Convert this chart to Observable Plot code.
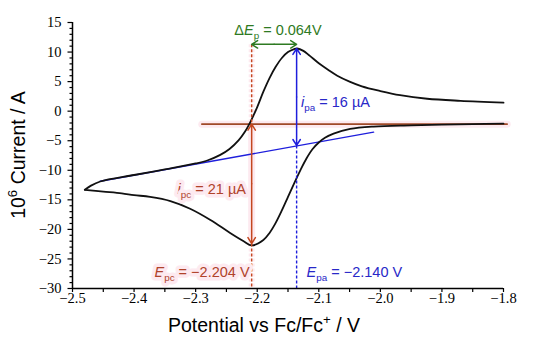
<!DOCTYPE html>
<html><head><meta charset="utf-8">
<script src="https://cdn.jsdelivr.net/npm/d3@7"></script>
<script src="https://cdn.jsdelivr.net/npm/@observablehq/plot@0.6"></script>
<style>
body{margin:0;background:#fff}
</style>
</head><body><div id="chart"></div>
<script>
// Cathodic (forward) branch, from -1.80 V to the switching potential
const lowerE = [-1.80, -1.85, -1.90, -1.95, -2.011, -2.049, -2.076, -2.09, -2.10, -2.11, -2.12, -2.13, -2.14, -2.15, -2.16, -2.17, -2.18, -2.19, -2.209, -2.222, -2.244, -2.276, -2.309, -2.341, -2.374, -2.40, -2.42, -2.45, -2.48];
const lowerI = [-2.12, -2.18, -2.27, -2.4, -2.6, -3.0, -3.8, -4.5, -5.3, -6.4, -8.0, -10.0, -12.2, -14.5, -16.8, -18.9, -20.6, -21.8, -22.7, -22.0, -20.6, -18.4, -16.5, -15.2, -14.5, -14.2, -13.9, -13.6, -13.3];
// Anodic (reverse) branch
const upperE = [-2.48, -2.47, -2.455, -2.40, -2.35, -2.30, -2.28, -2.26, -2.245, -2.23, -2.22, -2.21, -2.20, -2.19, -2.18, -2.17, -2.16, -2.15, -2.14, -2.135, -2.125, -2.115, -2.10, -2.085, -2.07, -2.05, -2.03, -2.0, -1.968, -1.924, -1.87, -1.80];
const upperI = [-13.3, -12.6, -11.9, -10.8, -9.85, -8.85, -8.3, -7.4, -6.4, -4.9, -3.5, -1.6, 0.7, 3.3, 5.6, 7.5, 9.0, 10.0, 10.5, 10.6, 10.2, 9.4, 8.1, 7.0, 6.0, 5.0, 4.2, 3.4, 2.7, 2.1, 1.75, 1.45];

// Baselines
const cathBaseE = [-2.29, -1.794];
const cathBaseI = [-2.2, -2.2];
const anBaseE = [-2.455, -2.011];
const anBaseI = [-11.85, -3.55];

// Peak markers
const Epc = -2.209, Epa = -2.136;
const ipcTop = -2.2, ipcBottom = -22.4;
const ipaTop = 10.6, ipaBottom = -5.8;
const deltaLevel = 11.3;

// Ticks
const xMajor = [-2.5, -2.4, -2.3, -2.2, -2.1, -2.0, -1.9, -1.8];
const xMinor = [-2.45, -2.35, -2.25, -2.15, -2.05, -1.95, -1.85];
const yMajor = [-30, -25, -20, -15, -10, -5, 0, 5, 10, 15];
const yMinor = d3.range(-30, 16, 1).filter(v => v % 5 !== 0);

const RED = "#C4471F", RED_T = "#B0422A", BROWN = "#A04A28", BLUE = "#1E1EDC", BLUE_T = "#2828C8", GREEN = "#2E7A22", GLOW = "#fdeaf0";
const SERIF = "Liberation Serif";

const cv = [
  ...lowerE.map((e, i) => ({E: e, I: lowerI[i], b: "c"})),
  ...upperE.map((e, i) => ({E: e, I: upperI[i], b: "a"}))
];
const line = (xs, ys) => xs.map((x, i) => ({x, y: ys[i]}));

// Annotation texts (position in data units)
const notes = [
  {x: -2.1655, y: 12.8, anchor: "middle", fill: GREEN, segs: [{t: "Δ"}, {t: "E", it: 1}, {t: "p", sub: 1}, {t: " = 0.064V"}]},
  {x: -2.128, y: 0.68, anchor: "start", fill: BLUE_T, segs: [{t: "i", it: 1}, {t: "pa", sub: 1}, {t: " = 16 µA"}]},
  {x: -2.3285, y: -14.1, anchor: "start", fill: RED_T, halo: GLOW, segs: [{t: "i", it: 1}, {t: "pc", sub: 1}, {t: " = 21 µA"}]},
  {x: -2.366, y: -28.1, anchor: "start", fill: RED_T, halo: GLOW, segs: [{t: "E", it: 1}, {t: "pc", sub: 1}, {t: " = −2.204 V"}]},
  {x: -2.119, y: -28.1, anchor: "start", fill: BLUE_T, segs: [{t: "E", it: 1}, {t: "pa", sub: 1}, {t: " = −2.140 V"}]}
];

function richText(g, x, y, segs, o) {
  const size = o.size;
  const t = g.append("text").attr("x", x).attr("y", y)
    .attr("fill", o.fill).attr("font-family", "'Liberation Sans', Arial, sans-serif")
    .attr("font-size", size).attr("text-anchor", o.anchor || "start");
  if (o.rotate) t.attr("transform", `rotate(-90 ${x} ${y})`);
  if (o.halo) t.attr("stroke", o.halo).attr("stroke-width", 7).attr("stroke-linejoin", "round").attr("paint-order", "stroke");
  let shift = 0;
  for (const s of segs) {
    const ts = t.append("tspan").text(s.t);
    let target = 0;
    if (s.sub) { ts.attr("font-size", size * 0.68); target = size * 0.28; }
    if (s.sup) { ts.attr("font-size", size * 0.68); target = -size * 0.42; }
    if (s.it) ts.attr("font-style", "italic");
    if (target !== shift) { ts.attr("dy", target - shift); shift = target; }
  }
}

const chart = Plot.plot({
  width: 550, height: 339,
  marginLeft: 72, marginRight: 47, marginTop: 22, marginBottom: 51,
  x: {domain: [-2.5, -1.8], label: null},
  y: {domain: [-30, 15], label: null},
  style: {color: "#000", background: "#fff"},
  marks: [
    Plot.axisX(xMinor, {tickSize: 4, tickFormat: () => "", label: null, strokeWidth: 1.2}),
    Plot.axisX(xMajor, {tickSize: 4, tickFormat: () => "", label: null, strokeWidth: 1.2}),
    Plot.axisY(yMinor, {tickSize: 2.5, tickFormat: () => "", label: null, strokeWidth: 1.2}),
    Plot.axisY(yMajor, {tickSize: 4.5, tickFormat: () => "", label: null, strokeWidth: 1.2}),
    // tick labels (Times-like serif)
    Plot.text(xMajor, {x: d => d, y: () => -30, text: d3.format(".1f"), dy: 10, fontFamily: SERIF, fontSize: 14.5, fill: "#000"}),
    Plot.text(yMajor, {x: () => -2.5, y: d => d, text: d3.format("d"), dx: -11, textAnchor: "end", fontFamily: SERIF, fontSize: 14.5, fill: "#000"}),
    // glow
    Plot.line(line(cathBaseE, cathBaseI), {x: "x", y: "y", stroke: GLOW, strokeWidth: 7}),
    Plot.link([{y1: ipcTop, y2: ipcBottom}], {x1: () => Epc, x2: () => Epc, y1: "y1", y2: "y2", stroke: GLOW, strokeWidth: 7}),
    Plot.link([{y1: deltaLevel, y2: ipcTop}, {y1: ipcBottom, y2: -30}], {x1: () => Epc, x2: () => Epc, y1: "y1", y2: "y2", stroke: GLOW, strokeWidth: 6, strokeDasharray: "3,2"}),
    // baselines
    Plot.line(line(cathBaseE, cathBaseI), {x: "x", y: "y", stroke: BROWN, strokeWidth: 1.6}),
    Plot.line(line(anBaseE, anBaseI), {x: "x", y: "y", stroke: BLUE, strokeWidth: 1.4}),
    // CV
    Plot.line(cv, {x: "E", y: "I", z: "b", stroke: "#111", strokeWidth: 1.8, curve: "catmull-rom"}),
    // dashed drop lines
    Plot.link([{y1: deltaLevel, y2: ipcTop}, {y1: ipcBottom, y2: -30}], {x1: () => Epc, x2: () => Epc, y1: "y1", y2: "y2", stroke: RED, strokeWidth: 1.4, strokeDasharray: "3,2"}),
    Plot.link([{y1: ipaBottom, y2: -30}], {x1: () => Epa, x2: () => Epa, y1: "y1", y2: "y2", stroke: BLUE, strokeWidth: 1.4, strokeDasharray: "3,2"}),
    // double arrows
    Plot.arrow([{y1: (ipcTop + ipcBottom) / 2, y2: ipcTop}, {y1: (ipcTop + ipcBottom) / 2, y2: ipcBottom}], {x1: () => Epc, x2: () => Epc, y1: "y1", y2: "y2", stroke: RED, strokeWidth: 1.5, headLength: 7, headAngle: 64}),
    Plot.arrow([{y1: (ipaTop + ipaBottom) / 2, y2: ipaTop}, {y1: (ipaTop + ipaBottom) / 2, y2: ipaBottom}], {x1: () => Epa, x2: () => Epa, y1: "y1", y2: "y2", stroke: BLUE, strokeWidth: 1.5, headLength: 7, headAngle: 64}),
    Plot.arrow([{x1: (Epc + Epa) / 2, x2: Epc}, {x1: (Epc + Epa) / 2, x2: Epa}], {x1: "x1", x2: "x2", y1: () => deltaLevel, y2: () => deltaLevel, stroke: GREEN, strokeWidth: 1.5, headLength: 7, headAngle: 64}),
    // axis lines
    Plot.ruleX([-2.5], {stroke: "#000", strokeWidth: 1.5}),
    Plot.ruleY([-30], {stroke: "#000", strokeWidth: 1.5})
  ]
});

// annotations and axis titles, placed through the plot's own scales
const sx = chart.scale("x"), sy = chart.scale("y");
const g = d3.select(chart).append("g").attr("class", "rich-notes");
for (const n of notes) richText(g, sx.apply(n.x), sy.apply(n.y), n.segs, {size: 14.5, fill: n.fill, anchor: n.anchor, halo: n.halo});
richText(g, 264, 332, [{t: "Potential vs Fc/Fc"}, {t: "+", sup: 1}, {t: " / V"}], {size: 19.5, fill: "#000", anchor: "middle"});
richText(g, 25, 155, [{t: "10"}, {t: "6", sup: 1}, {t: " Current / A"}], {size: 19.5, fill: "#000", anchor: "middle", rotate: 1});

document.getElementById("chart").append(chart);
</script>
</body></html>
